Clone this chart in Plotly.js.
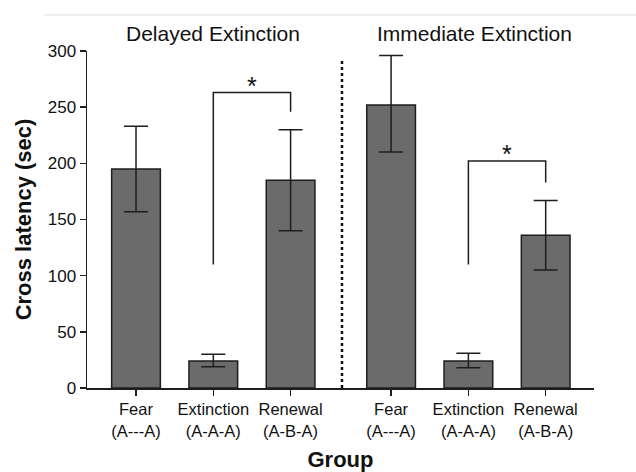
<!DOCTYPE html>
<html>
<head>
<meta charset="utf-8">
<script src="https://cdn.plot.ly/plotly-3.0.1.min.js"></script>
<style>html,body{margin:0;padding:0;background:#fff;}#chart{width:636px;height:472px;}</style>
</head>
<body>
<div id="chart"></div>
<script>
// ---- data ----
var positions = [0, 1, 2, 3.3, 4.3, 5.3];
var tickLabels = ["Fear<br>(A---A)", "Extinction<br>(A-A-A)", "Renewal<br>(A-B-A)",
                  "Fear<br>(A---A)", "Extinction<br>(A-A-A)", "Renewal<br>(A-B-A)"];
var means = [195, 24, 185, 252, 24, 136];
var errUpper = [38, 6, 45, 44, 7, 31];
var errLower = [38, 5, 45, 42, 6, 31];
var groupTitles = ["Delayed Extinction", "Immediate Extinction"];
var groupTitleX = [1.0, 4.38];
var bracket1X = [1, 1, 2, 2];
var bracket1Y = [110, 263, 263, 246];
var bracket2X = [4.3, 4.3, 5.3, 5.3];
var bracket2Y = [110, 202, 202, 183];
var starX = [1.5, 4.8];
var starY = [263, 202];
var dividerX = 2.665;
var dividerTop = 291;

var font = "Liberation Sans, Arial, Helvetica, sans-serif";

var traces = [
  {
    type: "bar",
    x: positions,
    y: means,
    width: 0.63,
    marker: {color: "#6b6b6b", line: {color: "#1e1e1e", width: 1.5}},
    error_y: {type: "data", symmetric: false, array: errUpper, arrayminus: errLower,
              color: "#1e1e1e", thickness: 1.5, width: 12},
    hoverinfo: "none"
  },
  {type: "scatter", mode: "lines", x: bracket1X, y: bracket1Y,
   line: {color: "#1e1e1e", width: 1.5}, hoverinfo: "none"},
  {type: "scatter", mode: "lines", x: bracket2X, y: bracket2Y,
   line: {color: "#1e1e1e", width: 1.5}, hoverinfo: "none"}
];

var annotations = [];
for (var i = 0; i < groupTitles.length; i++) {
  annotations.push({x: groupTitleX[i], y: 1.053, xref: "x", yref: "paper", text: groupTitles[i],
    showarrow: false, xanchor: "center", yanchor: "middle",
    font: {family: font, size: 21, color: "#111"}});
}
for (var j = 0; j < starX.length; j++) {
  annotations.push({x: starX[j], y: starY[j], xref: "x", yref: "y", text: "*",
    showarrow: false, yanchor: "bottom", yshift: -9,
    font: {family: font, size: 25, color: "#111"}});
}

var layout = {
  width: 636, height: 472,
  margin: {l: 87, r: 42, t: 51, b: 84, pad: 0},
  paper_bgcolor: "#fff", plot_bgcolor: "#fff",
  showlegend: false,
  bargap: 0,
  xaxis: {
    range: [-0.634, 5.925], tickmode: "array", tickvals: positions, ticktext: tickLabels,
    showline: true, linecolor: "#1e1e1e", linewidth: 1.5, ticks: "outside", ticklen: 6,
    tickcolor: "#1e1e1e", tickwidth: 1.5, showgrid: false, zeroline: false,
    tickfont: {family: font, size: 16.5, color: "#111"},
    title: {text: "<b>Group</b>", font: {family: font, size: 22, color: "#111"}, standoff: 14}
  },
  yaxis: {
    range: [0, 300], tickvals: [0, 50, 100, 150, 200, 250, 300],
    showline: true, linecolor: "#1e1e1e", linewidth: 1.5, ticks: "outside", ticklen: 6,
    tickcolor: "#1e1e1e", tickwidth: 1.5, showgrid: false, zeroline: false,
    tickfont: {family: font, size: 17, color: "#111"},
    title: {text: "<b>Cross latency (sec)</b>", font: {family: font, size: 22, color: "#111"}, standoff: 10}
  },
  shapes: [
    {type: "line", xref: "x", yref: "y", x0: dividerX, x1: dividerX, y0: 0, y1: dividerTop,
     line: {color: "#111", width: 2.5, dash: "dot"}},
    {type: "line", xref: "paper", yref: "paper", x0: -0.085, x1: 1.1, y0: 1.107, y1: 1.107,
     line: {color: "#dddddd", width: 1}}
  ],
  annotations: annotations
};

Plotly.newPlot("chart", traces, layout, {displayModeBar: false, staticPlot: true});
</script>
</body>
</html>
